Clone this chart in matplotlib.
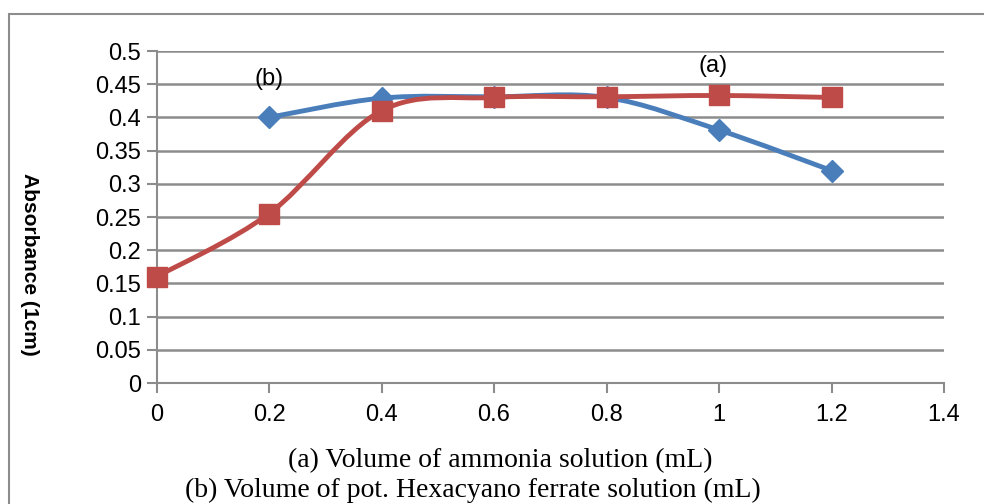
import matplotlib
matplotlib.use('Agg')
import matplotlib.pyplot as plt
from matplotlib.path import Path
from matplotlib.patches import PathPatch, Rectangle
import numpy as np

# ammonia series (a) and hexacyano ferrate series (b)
x_a = [0, 0.2, 0.4, 0.6, 0.8, 1.0, 1.2]
y_a = [0.16, 0.255, 0.41, 0.43, 0.431, 0.433, 0.43]
x_b = [0.2, 0.4, 0.6, 0.8, 1.0, 1.2]
y_b = [0.40, 0.429, 0.431, 0.43, 0.381, 0.32]

x_ticks = [0, 0.2, 0.4, 0.6, 0.8, 1, 1.2, 1.4]
y_ticks = [0, 0.05, 0.1, 0.15, 0.2, 0.25, 0.3, 0.35, 0.4, 0.45, 0.5]

blue = '#4A7EBB'
red = '#BE4B48'
grid_gray = '#8C8C8C'


def smooth_path(xs, ys):
    # bezier segments through every point, control points from neighbours
    pts = np.column_stack([xs, ys])
    n = len(pts)
    verts = [pts[0]]
    codes = [Path.MOVETO]
    for i in range(n - 1):
        p0 = pts[i - 1] if i > 0 else pts[i]
        p1 = pts[i]
        p2 = pts[i + 1]
        p3 = pts[i + 2] if i + 2 < n else pts[i + 1]
        c1 = p1 + (p2 - p0) / 6.0
        c2 = p2 - (p3 - p1) / 6.0
        verts += [c1, c2, p2]
        codes += [Path.CURVE4] * 3
    return Path(verts, codes)


def fmt(v):
    return ('%g' % v)


fig = plt.figure(figsize=(9.84, 5.04), dpi=100)
fig.patch.set_facecolor('white')
fig.add_artist(Rectangle((9 / 984, -0.1), 1.2, 1.1 - 14.5 / 504, transform=fig.transFigure,
                         fill=False, edgecolor='#8C8C8C', linewidth=1.5))

ax = fig.add_axes([156.5 / 984, 1 - 383 / 504, (944 - 156.5) / 984, (383 - 51) / 504])
ax.set_xlim(0, 1.4)
ax.set_ylim(0, 0.5)
ax.set_xticks(x_ticks)
ax.set_yticks(y_ticks)
ax.set_xticklabels([fmt(v) for v in x_ticks], fontsize=17, family='Liberation Sans')
ax.set_yticklabels([fmt(v) for v in y_ticks], fontsize=17, family='Liberation Sans')
ax.tick_params(axis='both', colors=grid_gray, labelcolor='black', length=7, width=1.5)
ax.tick_params(axis='x', pad=8)
ax.tick_params(axis='y', pad=4)
ax.yaxis.grid(True, color=grid_gray, linewidth=1.8)
ax.set_axisbelow(True)
for side in ['top', 'right']:
    ax.spines[side].set_visible(False)
for side in ['left', 'bottom']:
    ax.spines[side].set_color(grid_gray)
    ax.spines[side].set_linewidth(1.5)

ax.add_patch(PathPatch(smooth_path(x_b, y_b), fill=False, edgecolor=blue, linewidth=3.5,
                       capstyle='round', zorder=3))
ax.plot(x_b, y_b, linestyle='none', marker='D', markersize=11.5, color=blue, zorder=4, clip_on=False)
ax.add_patch(PathPatch(smooth_path(x_a, y_a), fill=False, edgecolor=red, linewidth=3.5,
                       capstyle='round', zorder=5))
ax.plot(x_a, y_a, linestyle='none', marker='s', markersize=15, color=red, zorder=6, clip_on=False)

ax.text(0.2, 0.441, '(b)', fontsize=17, family='Liberation Sans', ha='center', va='bottom')
ax.text(0.99, 0.461, '(a)', fontsize=17, family='Liberation Sans', ha='center', va='bottom')

fig.text(20 / 984, 1 - 264 / 504, 'Absorbance (1cm)', rotation=270, fontsize=15,
         family='Liberation Sans', weight='bold', ha='left', va='center')
fig.text(500 / 984, 1 - 461 / 504, '(a) Volume of ammonia solution (mL)', fontsize=20,
         family='Liberation Serif', ha='center', va='center')
fig.text(473 / 984, 1 - 490 / 504, '(b) Volume of pot. Hexacyano ferrate solution (mL)', fontsize=20,
         family='Liberation Serif', ha='center', va='center')

fig.savefig('out.png', dpi=100)
